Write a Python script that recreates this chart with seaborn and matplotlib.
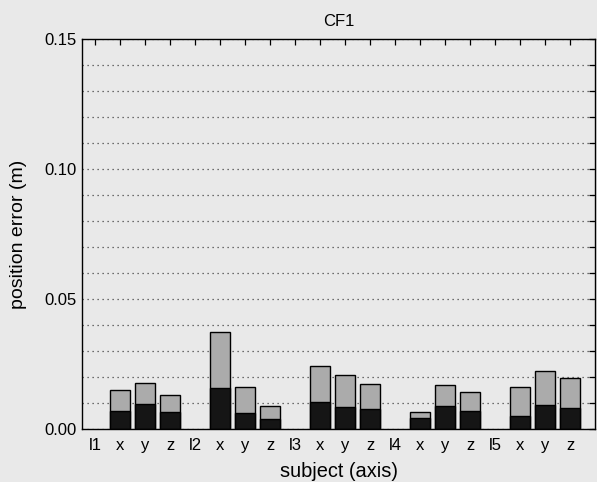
import matplotlib
matplotlib.use("Agg")
import matplotlib.pyplot as plt
import seaborn as sns
import pandas as pd
import numpy as np
from matplotlib.ticker import FixedLocator, FuncFormatter

# ---- data ----
bar_ids = ["l1", "l1x", "l1y", "l1z",
           "l2", "l2x", "l2y", "l2z",
           "l3", "l3x", "l3y", "l3z",
           "l4", "l4x", "l4y", "l4z",
           "l5", "l5x", "l5y", "l5z"]
tick_labels = ["l1", "x", "y", "z",
               "l2", "x", "y", "z",
               "l3", "x", "y", "z",
               "l4", "x", "y", "z",
               "l5", "x", "y", "z"]
# total error (top of grey part)
total_err = [np.nan, 0.0150, 0.0178, 0.0132,
             np.nan, 0.0373, 0.0163, 0.0088,
             np.nan, 0.0242, 0.0208, 0.0173,
             np.nan, 0.0065, 0.0171, 0.0144,
             np.nan, 0.0160, 0.0223, 0.0196]
# lower (black) part
lower_err = [np.nan, 0.0068, 0.0095, 0.0064,
             np.nan, 0.0156, 0.0062, 0.0038,
             np.nan, 0.0105, 0.0085, 0.0077,
             np.nan, 0.0044, 0.0088, 0.0068,
             np.nan, 0.0049, 0.0091, 0.0080]
y_labeled = [0.00, 0.05, 0.10, 0.15]

df = pd.DataFrame({"bar": bar_ids, "total": total_err, "lower": lower_err})

sns.set_theme(style="white")
plt.rcParams["font.family"] = ["Liberation Sans", "DejaVu Sans"]
plt.rcParams["text.color"] = "black"
plt.rcParams["axes.labelcolor"] = "black"
plt.rcParams["xtick.color"] = "black"
plt.rcParams["ytick.color"] = "black"

bg = "#e9e9e9"
fig = plt.figure(figsize=(5.97, 4.82), dpi=100, facecolor=bg)
ax = fig.add_axes([0.1374, 0.1100, 0.8593, 0.8091])
ax.set_facecolor(bg)

sns.barplot(data=df, x="bar", y="total", order=bar_ids, color="#ababab",
            saturation=1, width=0.78, edgecolor="black", linewidth=1.0, ax=ax)
sns.barplot(data=df, x="bar", y="lower", order=bar_ids, color="#151515",
            saturation=1, width=0.78, edgecolor="black", linewidth=1.0, ax=ax)

ax.set_xlim(-0.52, 20.0)
ax.set_ylim(0, 0.15)

ax.yaxis.set_major_locator(FixedLocator(np.round(np.arange(0, 0.1501, 0.01), 2)))
ax.yaxis.set_major_formatter(FuncFormatter(
    lambda v, p: f"{v:.2f}" if any(abs(v - t) < 1e-9 for t in y_labeled) else ""))
ax.set_xticks(range(len(bar_ids)))
ax.set_xticklabels(tick_labels)

ax.tick_params(axis="both", direction="in", length=4, width=0.9,
               top=True, right=True, labelsize=12)
ax.tick_params(axis="y", pad=4)
ax.tick_params(axis="x", pad=6.5)

ax.set_axisbelow(True)
ax.yaxis.grid(True, color="#444444", linestyle=(0, (1, 3)), linewidth=0.9)
ax.xaxis.grid(False)
for s in ax.spines.values():
    s.set_visible(True)
    s.set_color("black")
    s.set_linewidth(1.0)

ax.set_title("CF1", fontsize=12, pad=9)
ax.set_xlabel("subject (axis)", fontsize=14.4)
ax.set_ylabel("position error (m)", fontsize=14)
ax.yaxis.set_label_coords(-0.108, 0.5)
ax.xaxis.set_label_coords(0.5, -0.085)

fig.savefig("out.png", dpi=100, facecolor=bg)
